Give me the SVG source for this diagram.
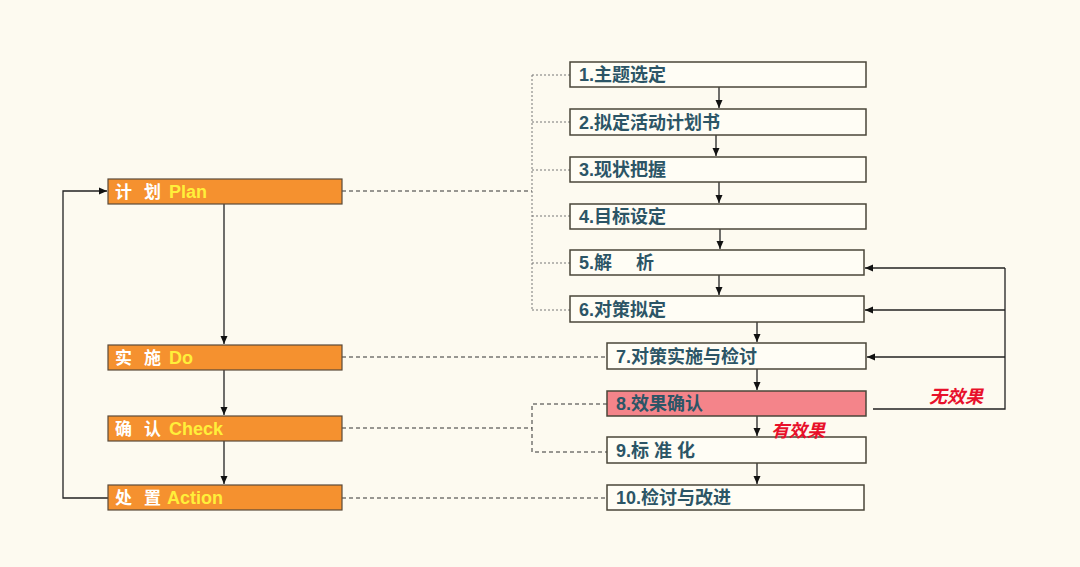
<svg xmlns="http://www.w3.org/2000/svg" width="1080" height="567" viewBox="0 0 1080 567">
<defs>
<marker id="ah" markerWidth="8" markerHeight="8" viewBox="0 0 8 8" refX="8" refY="4" orient="auto" markerUnits="userSpaceOnUse"><path d="M0,0.5 L8,4 L0,7.5 Z" fill="#111"/></marker>
<style>
.bg{fill:#fdfaf0}
.phase{fill:#f5912f;stroke:#5a4a3a;stroke-width:1.2}
.step{fill:#fffdf5;stroke:#4a4538;stroke-width:1.5}
.hot{fill:#f4848a;stroke:#4a4538;stroke-width:1.5}
.cn{font-family:"Liberation Sans","Noto Sans CJK SC",sans-serif;font-weight:bold;font-size:17px;fill:#ffffff}
.en{fill:#ffef3a;font-size:18px}
.st{font-family:"Liberation Sans","Noto Sans CJK SC",sans-serif;font-weight:bold;font-size:18px;fill:#2c5566}
.red{font-family:"Liberation Sans","Noto Sans CJK SC",sans-serif;font-weight:bold;font-style:italic;font-size:18px;fill:#e8102a}
.solid{fill:none;stroke:#222;stroke-width:1.3}
.dot{fill:none;stroke:#777;stroke-width:1;stroke-dasharray:2,2}
.dash{fill:none;stroke:#333;stroke-width:1;stroke-dasharray:4,3}
</style>
</defs>
<rect class="bg" x="0" y="0" width="1080" height="567"/>

<g id="connectors">
<path class="solid" d="M224,204 V344" marker-end="url(#ah)"/>
<path class="solid" d="M224,370 V415" marker-end="url(#ah)"/>
<path class="solid" d="M224,441 V484" marker-end="url(#ah)"/>
<path class="solid" d="M108,498 H63 V191 H107" marker-end="url(#ah)"/>
<path class="dash" d="M342,191 H532"/>
<path class="dot" d="M532,75 V310"/>
<path class="dot" d="M532,75 H570"/>
<path class="dot" d="M532,122 H570"/>
<path class="dot" d="M532,170 H570"/>
<path class="dot" d="M532,216 H570"/>
<path class="dot" d="M532,263 H570"/>
<path class="dot" d="M532,310 H570"/>
<path class="dash" d="M342,357 H607"/>
<path class="dash" d="M342,428 H532"/>
<path class="dash" d="M607,404 H532 V452 H607"/>
<path class="dash" d="M342,498 H607"/>
<path class="solid" d="M719,87 V108" marker-end="url(#ah)"/>
<path class="solid" d="M716,135 V156" marker-end="url(#ah)"/>
<path class="solid" d="M719,182 V203" marker-end="url(#ah)"/>
<path class="solid" d="M720,229 V249" marker-end="url(#ah)"/>
<path class="solid" d="M719,275 V295" marker-end="url(#ah)"/>
<path class="solid" d="M757,322 V342" marker-end="url(#ah)"/>
<path class="solid" d="M757,369 V390" marker-end="url(#ah)"/>
<path class="solid" d="M757,416 V436" marker-end="url(#ah)"/>
<path class="solid" d="M757,463 V484" marker-end="url(#ah)"/>
<path class="solid" d="M873,409 H1005 V268"/>
<path class="solid" d="M1005,268 H865" marker-end="url(#ah)"/>
<path class="solid" d="M1005,310 H865" marker-end="url(#ah)"/>
<path class="solid" d="M1005,357 H867" marker-end="url(#ah)"/>
</g>

<g id="plan"><rect class="phase" x="108" y="179" width="234" height="25"/><text class="cn" y="198"><tspan x="115">计</tspan><tspan x="144">划</tspan><tspan class="en" x="169">Plan</tspan></text></g>
<g id="do"><rect class="phase" x="108" y="345" width="234" height="25"/><text class="cn" y="364"><tspan x="115">实</tspan><tspan x="144">施</tspan><tspan class="en" x="169">Do</tspan></text></g>
<g id="check"><rect class="phase" x="108" y="416" width="234" height="25"/><text class="cn" y="435"><tspan x="115">确</tspan><tspan x="144">认</tspan><tspan class="en" x="169">Check</tspan></text></g>
<g id="action"><rect class="phase" x="108" y="485" width="234" height="25"/><text class="cn" y="504"><tspan x="115">处</tspan><tspan x="144">置</tspan><tspan class="en" x="167">Action</tspan></text></g>

<g id="s1"><rect class="step" x="570" y="62" width="296" height="25"/><text class="st" x="579" y="81">1.主题选定</text></g>
<g id="s2"><rect class="step" x="570" y="109" width="296" height="26"/><text class="st" x="579" y="129">2.拟定活动计划书</text></g>
<g id="s3"><rect class="step" x="570" y="157" width="296" height="25"/><text class="st" x="579" y="176">3.现状把握</text></g>
<g id="s4"><rect class="step" x="570" y="204" width="296" height="25"/><text class="st" x="579" y="223">4.目标设定</text></g>
<g id="s5"><rect class="step" x="570" y="250" width="294" height="25"/><text class="st" x="579" y="269">5.解<tspan dx="24">析</tspan></text></g>
<g id="s6"><rect class="step" x="570" y="296" width="294" height="26"/><text class="st" x="579" y="316">6.对策拟定</text></g>
<g id="s7"><rect class="step" x="607" y="343" width="259" height="26"/><text class="st" x="616" y="363">7.对策实施与检讨</text></g>
<g id="s8"><rect class="hot" x="607" y="391" width="259" height="25"/><text class="st" x="616" y="410">8.效果确认</text></g>
<g id="s9"><rect class="step" x="607" y="437" width="259" height="26"/><text class="st" x="616" y="457">9.标 准 化</text></g>
<g id="s10"><rect class="step" x="607" y="485" width="257" height="25"/><text class="st" x="616" y="504">10.检讨与改进</text></g>

<text class="red" x="929" y="403">无效果</text>
<text class="red" x="771" y="437">有效果</text>
</svg>
